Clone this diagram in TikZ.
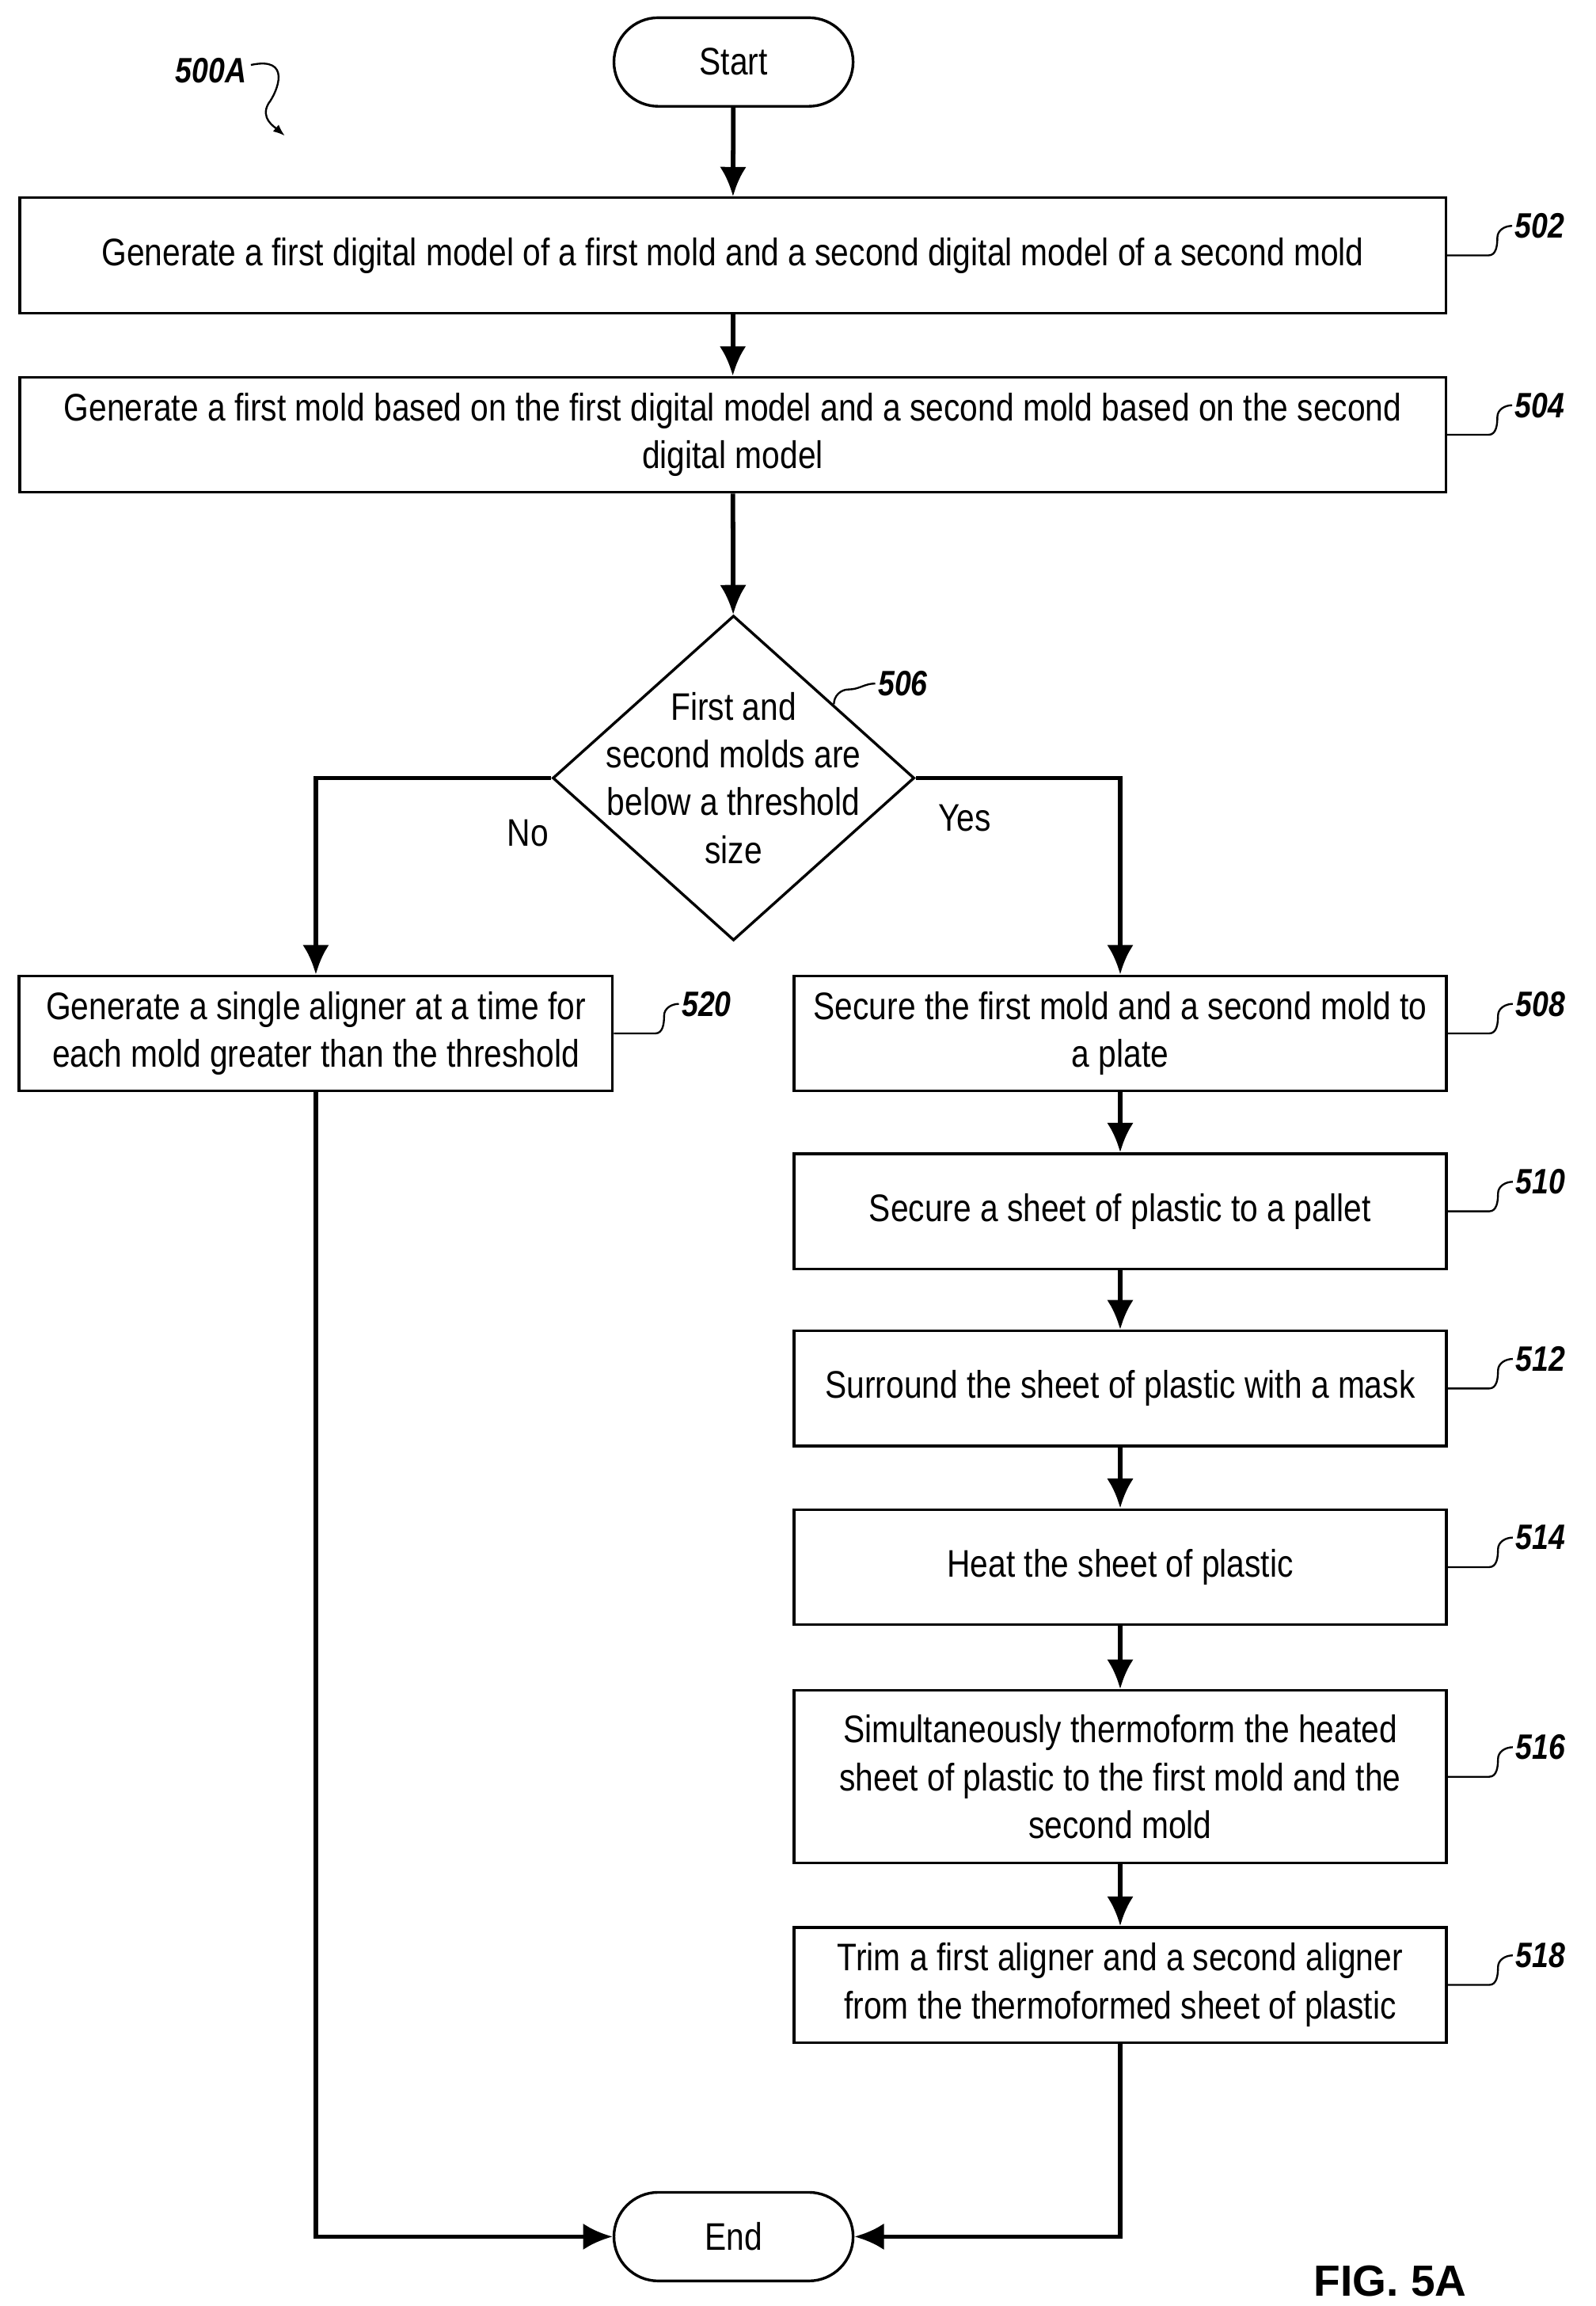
\documentclass[tikz,border=0pt]{standalone}
\usepackage{fontspec}
\setmainfont{Liberation Sans}[FakeStretch=0.84]
\newfontfamily\figfont{Liberation Sans}
\usetikzlibrary{shapes.geometric,arrows.meta}
\tikzset{procbox/.style = {draw, line width=1.3pt, align=center, inner sep=2pt}}
\tikzset{term/.style = {draw, line width=1.3pt, rounded corners=0.75cm, minimum width=4.05cm, minimum height=1.5cm}}
\tikzset{flow/.style = {line width=2.2pt, -{Latex[length=0.5cm,width=0.45cm]}}}
\tikzset{refline/.style = {line width=0.9pt}}
\tikzset{reftext/.style = {font=\fontsize{17}{20}\selectfont\bfseries\itshape, anchor=west}}

\begin{document}
\begin{tikzpicture}[x=0.025cm, y=-0.025cm, font=\fontsize{18.5}{23}\selectfont]
  \useasboundingbox (0,0) rectangle (1081,1562);
  \node [term] (start) at (497,42) {Start};
  \node [procbox, minimum width=24.15cm, minimum height=1.95cm] (s502) at (496.5,173) {Generate a first digital model of a first mold and a second digital model of a second mold};
  \node [procbox, minimum width=24.15cm, minimum height=1.95cm] (s504) at (496.5,294.5) {Generate a first mold based on the first digital model and a second mold based on the second\\digital model};
  \node [draw, diamond, line width=1.3pt, minimum width=6.125cm, minimum height=5.5cm, inner sep=0pt] (d506) at (497,527) {};
  \node [align=center] (q506) at (d506.center) {First and\\second molds are\\below a threshold\\size};
  \node [procbox, minimum width=10.05cm, minimum height=1.95cm] (s520) at (214,700) {Generate a single aligner at a time for\\each mold greater than the threshold};
  \node [procbox, minimum width=11.05cm, minimum height=1.95cm] (s508) at (759,700) {Secure the first mold and a second mold to\\a plate};
  \node [procbox, minimum width=11.05cm, minimum height=1.95cm] (s510) at (759,820.5) {Secure a sheet of plastic to a pallet};
  \node [procbox, minimum width=11.05cm, minimum height=1.95cm] (s512) at (759,940.5) {Surround the sheet of plastic with a mask};
  \node [procbox, minimum width=11.05cm, minimum height=1.95cm] (s514) at (759,1061.5) {Heat the sheet of plastic};
  \node [procbox, minimum width=11.05cm, minimum height=2.925cm] (s516) at (759,1203.5) {Simultaneously thermoform the heated\\sheet of plastic to the first mold and the\\second mold};
  \node [procbox, minimum width=11.05cm, minimum height=1.95cm] (s518) at (759,1344.5) {Trim a first aligner and a second aligner\\from the thermoformed sheet of plastic};
  \node [term] (end) at (497,1515) {End};

  \draw [flow] (start) -- (s502);
  \draw [flow] (s502) -- (s504);
  \draw [flow] (s504) -- (d506);
  \draw [flow] (d506.west) -| node [pos=0.05, below=0.55cm] {No} (s520.north);
  \draw [flow] (d506.east) -| node [pos=0.12, below=0.3cm] {Yes} (s508.north);
  \draw [flow] (s508) -- (s510);
  \draw [flow] (s510) -- (s512);
  \draw [flow] (s512) -- (s514);
  \draw [flow] (s514) -- (s516);
  \draw [flow] (s516) -- (s518);
  \draw [flow] (s520.south) |- (end.west);
  \draw [flow] (s518.south) |- (end.east);

  % reference numerals
  \foreach \n in {502,504,508,510,512,514,516,518,520}
    \draw [refline] (s\n.east) -- ++(28,0) to[out=0,in=-90] ++(6,-12) to[out=90,in=180] ++(10,-8)
      node [reftext, inner sep=1pt] {\n};
  \draw [refline] (565,477) to[out=90,in=180] ++(10,-10) to[out=0,in=180] ++(18,-4) node [reftext, inner sep=1pt] {506};

  \node [reftext, anchor=center] (lbl) at (143,48) {500A};
  \draw [line width=0.9pt, -{Latex[length=0.2cm]}] (170,44) .. controls (198,38) and (188,62) .. (182,70) .. controls (176,80) and (186,86) .. (193,92);
  \node [font=\figfont\fontsize{21}{26}\selectfont\bfseries] (fig) at (942,1545) {FIG. 5A};
\end{tikzpicture}
\end{document}
